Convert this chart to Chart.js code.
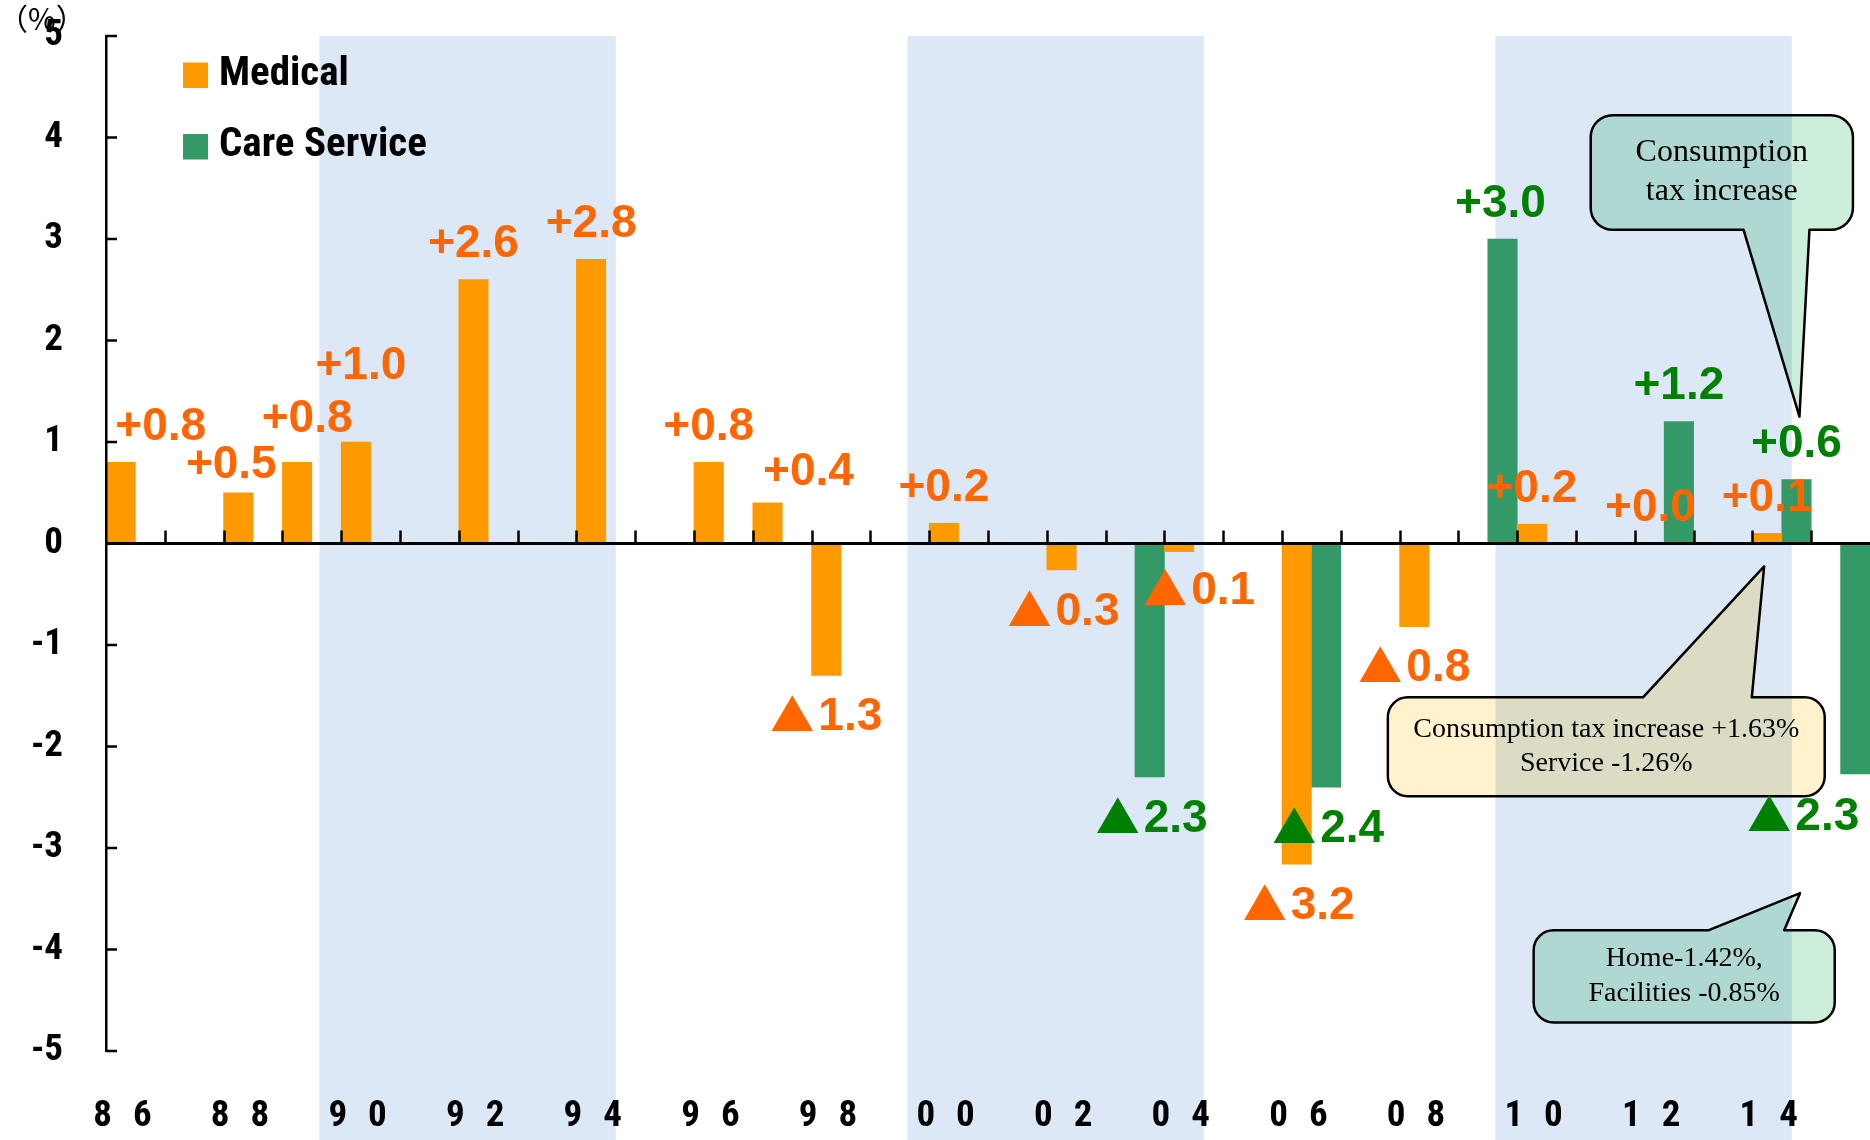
<!DOCTYPE html>
<html>
<head>
<meta charset="utf-8">
<script src="https://cdn.jsdelivr.net/npm/chart.js@4/dist/chart.umd.min.js"></script>
<style>
  html, body { margin: 0; padding: 0; background: #ffffff; }
  #wrap { width: 1870px; height: 1140px; }
</style>
</head>
<body>
<div id="wrap"><canvas id="c" width="1870" height="1140"></canvas></div>
<script>
// Fiscal years of each revision (two-digit)
const years = ['86','87','88','89','90','91','92','93','94','95','96','97','98','99',
               '00','01','02','03','04','05','06','07','08','09','10','11','12','13','14','15'];

// Revision rates (%), null = no revision that year
const medicalRates = [0.8, null, 0.5, 0.8, 1.0, null, 2.6, null, 2.8, null, 0.8, 0.4, -1.3, null,
                      0.2, null, -0.26, null, -0.08, null, -3.16, null, -0.82, null, 0.19, null, 0.004, null, 0.1, null];
const careRates    = [null, null, null, null, null, null, null, null, null, null, null, null, null, null,
                      null, null, null, -2.3, null, null, -2.4, null, null, 3.0, null, null, 1.2, null, 0.63, -2.27];

// Y axis ticks
const yTicks = [5, 4, 3, 2, 1, 0, -1, -2, -3, -4, -5];

// Shaded periods
const shadedPeriods = [['90', '94'], ['00', '04'], ['10', '14']];

// Callout texts
const taxNote = ['Consumption', 'tax increase'];
const revisionNote = ['Consumption tax increase +1.63%', 'Service -1.26%'];
const careNote = ['Home-1.42%,', 'Facilities -0.85%'];

// ---------- styling ----------
const COLORS = {
  medical: '#FF9900', care: '#339966',
  medicalText: '#FF6600', careText: '#008000',
  band: '#DCE8F6', teal: '#CCEEDA', cream: '#FFF2CC'
};
const NARROW = "'Roboto Condensed', 'Open Sans', sans-serif";
const SANS = "'Liberation Sans', Arial, sans-serif";
const CJK = "'Noto Sans CJK JP', sans-serif";
const SERIF = "'Liberation Serif', 'Times New Roman', serif";

// hand-placed nudges for value labels [dx, dy] in px
const labelNudge = {
  'Medical:86': [40, 0], 'Medical:88': [-7, 8], 'Medical:89': [10, -8], 'Medical:90': [5, -41],
  'Medical:97': [41, 4], 'Medical:02': [2, 0], 'Medical:04': [20, -2], 'Medical:06': [2, 0],
  'Medical:12': [1, 0],
  'Care Service:03': [2, 0], 'Care Service:06': [2, 0], 'Care Service:09': [-2, 0],
  'Care Service:15': [-52, 1]
};

function catGeom(chart) {
  const xs = chart.scales.x;
  const w = xs.getPixelForValue(1) - xs.getPixelForValue(0);
  const edge0 = xs.getPixelForValue(0) - w / 2;
  return { w, at: k => edge0 + k * w };           // k in category-edge units
}

function bubblePath(ctx, L, T, R, B, r, tail) {
  ctx.beginPath();
  ctx.moveTo(L + r, T);
  if (tail.side === 'top') { ctx.lineTo(tail.x1, T); ctx.lineTo(tail.tx, tail.ty); ctx.lineTo(tail.x2, T); }
  ctx.lineTo(R - r, T);
  ctx.arcTo(R, T, R, T + r, r);
  ctx.lineTo(R, B - r);
  ctx.arcTo(R, B, R - r, B, r);
  if (tail.side === 'bottom') { ctx.lineTo(tail.x2, B); ctx.lineTo(tail.tx, tail.ty); ctx.lineTo(tail.x1, B); }
  ctx.lineTo(L + r, B);
  ctx.arcTo(L, B, L, B - r, r);
  ctx.lineTo(L, T + r);
  ctx.arcTo(L, T, L + r, T, r);
  ctx.closePath();
}

// callouts in (category-edge, value) coordinates
const callouts = [
  { box: [25.25, 4.22, 29.71, 3.09], r: 22, fill: COLORS.teal, lines: taxNote, font: '32px ' + SERIF, lineGap: 39,
    tail: { side: 'bottom', x1: 27.85, x2: 28.97, tx: 28.8, ty: 1.25 } },
  { box: [21.8, -1.516, 29.23, -2.49], r: 20, fill: COLORS.cream, lines: revisionNote, font: '28px ' + SERIF, lineGap: 34,
    tail: { side: 'top', x1: 26.14, x2: 27.99, tx: 28.2, ty: -0.226 } },
  { box: [24.28, -3.81, 29.4, -4.72], r: 20, fill: COLORS.teal, lines: careNote, font: '28px ' + SERIF, lineGap: 35,
    tail: { side: 'top', x1: 27.26, x2: 28.54, tx: 28.81, ty: -3.445 } }
];

const backdropPlugin = {
  id: 'backdrop',
  beforeDraw(chart) {
    const { ctx, chartArea, scales } = chart;
    const g = catGeom(chart);
    const py = v => scales.y.getPixelForValue(v);
    ctx.save();
    ctx.fillStyle = '#ffffff';
    ctx.fillRect(0, 0, chart.width, chart.height);

    // callout bubbles
    callouts.forEach(c => {
      const L = g.at(c.box[0]), T = py(c.box[1]), R = g.at(c.box[2]), B = py(c.box[3]);
      const tail = { side: c.tail.side, x1: g.at(c.tail.x1), x2: g.at(c.tail.x2), tx: g.at(c.tail.tx), ty: py(c.tail.ty) };
      bubblePath(ctx, L, T, R, B, c.r, tail);
      ctx.fillStyle = c.fill;
      ctx.fill();
      ctx.lineWidth = 2.5;
      ctx.strokeStyle = '#000000';
      ctx.lineJoin = 'round';
      ctx.stroke();
      ctx.fillStyle = '#000000';
      ctx.font = c.font;
      ctx.textAlign = 'center';
      ctx.textBaseline = 'middle';
      const cx = (L + R) / 2, cy = (T + B) / 2;
      c.lines.forEach((t, i) => ctx.fillText(t, cx, cy + (i - (c.lines.length - 1) / 2) * c.lineGap));
    });

    // shaded periods
    ctx.globalCompositeOperation = 'multiply';
    ctx.fillStyle = COLORS.band;
    shadedPeriods.forEach(([a, b]) => {
      const x1 = g.at(years.indexOf(a) - 0.37);
      const x2 = g.at(years.indexOf(b) + 0.67);
      ctx.fillRect(x1, chartArea.top, x2 - x1, chart.height - chartArea.top);
    });
    ctx.restore();
  }
};

const overlayPlugin = {
  id: 'overlay',
  afterDatasetsDraw(chart) {
    const { ctx, chartArea, scales } = chart;
    const g = catGeom(chart);
    const y0 = scales.y.getPixelForValue(0);
    ctx.save();
    ctx.strokeStyle = '#000000';

    // zero line
    ctx.lineWidth = 3;
    ctx.beginPath();
    ctx.moveTo(chartArea.left, y0);
    ctx.lineTo(chartArea.right, y0);
    ctx.stroke();

    // category tick marks on the zero line
    ctx.lineWidth = 2.5;
    ctx.beginPath();
    for (let k = 1; k < years.length; k++) {
      const x = Math.round(g.at(k)) + 0.5;
      ctx.moveTo(x, y0);
      ctx.lineTo(x, y0 - 13);
    }
    ctx.stroke();

    // inward value ticks on the y axis
    ctx.beginPath();
    yTicks.forEach(v => {
      const y = scales.y.getPixelForValue(v);
      ctx.moveTo(chartArea.left, y);
      ctx.lineTo(chartArea.left + 11, y);
    });
    ctx.stroke();

    // value labels: '+x.x' for raises, '▲x.x' for cuts
    ctx.textBaseline = 'middle';
    ctx.textAlign = 'left';
    const numFont = 'bold 46px ' + SANS;
    const triFont = '44px ' + CJK;
    chart.data.datasets.forEach((ds, di) => {
      const meta = chart.getDatasetMeta(di);
      meta.data.forEach((bar, i) => {
        const v = ds.data[i];
        if (v === null || v === undefined) return;
        const [dx, dy] = labelNudge[ds.label + ':' + years[i]] || [0, 0];
        const y = (v >= 0 ? bar.y - 35 : bar.y + 42) + dy;
        const num = (v >= 0 ? '+' : '') + Math.abs(v).toFixed(1);
        ctx.fillStyle = ds.labelColor;
        ctx.font = numFont;
        const wNum = ctx.measureText(num).width;
        if (v >= 0) {
          ctx.fillText(num, bar.x + dx - wNum / 2, y);
        } else {
          ctx.font = triFont;
          const wTri = ctx.measureText('\u25B2').width;
          const gap = 4;
          const x0 = bar.x + dx - (wTri + gap + wNum) / 2;
          ctx.fillText('\u25B2', x0, y - 2);
          ctx.font = numFont;
          ctx.fillText(num, x0 + wTri + gap, y);
        }
      });
    });

    // legend
    ctx.textAlign = 'left';
    ctx.font = 'bold 41px ' + NARROW;
    chart.data.datasets.forEach((ds, di) => {
      const top = chartArea.top + 26.5 + di * 71.5;
      ctx.fillStyle = ds.backgroundColor;
      ctx.fillRect(chartArea.left + 77, top, 25, 25.5);
      ctx.fillStyle = '#000000';
      ctx.fillText(ds.label, chartArea.left + 113, top + 12);
    });

    // unit
    ctx.font = '30px ' + CJK;
    ctx.fillText('\uFF08%\uFF09', -2, 19);
    ctx.restore();
  }
};

new Chart(document.getElementById('c'), {
  type: 'bar',
  data: {
    labels: years,
    datasets: [
      { label: 'Medical', data: medicalRates, backgroundColor: COLORS.medical, labelColor: COLORS.medicalText,
        barPercentage: 1, categoryPercentage: 1 },
      { label: 'Care Service', data: careRates, backgroundColor: COLORS.care, labelColor: COLORS.careText,
        barPercentage: 1, categoryPercentage: 1 }
    ]
  },
  options: {
    responsive: false,
    animation: false,
    devicePixelRatio: 1,
    layout: { padding: { top: 36, left: 0, right: 0, bottom: 0 } },
    plugins: { legend: { display: false }, tooltip: { enabled: false } },
    scales: {
      x: {
        position: 'bottom',
        grid: { display: false, drawTicks: false },
        border: { display: false },
        ticks: {
          autoSkip: false, maxRotation: 0, padding: 44, labelOffset: -13,
          color: '#000000',
          font: { family: NARROW, size: 37, weight: 'bold' },
          callback: (val, idx) => idx % 2 === 0 ? years[idx].split('').join('  \u200A') : ''
        },
        afterFit: s => { s.height = 89; s.paddingLeft = 0; s.paddingRight = 0; }
      },
      y: {
        min: -5, max: 5,
        grid: { display: false, drawTicks: false },
        border: { display: true, color: '#000000', width: 2.5, z: 1 },
        ticks: {
          stepSize: 1, padding: 43, color: '#000000',
          font: { family: NARROW, size: 37, weight: 'bold' }
        },
        afterFit: s => { s.width = 106; s.paddingTop = 0; s.paddingBottom = 0; }
      }
    }
  },
  plugins: [backdropPlugin, overlayPlugin]
});
</script>
</body>
</html>
